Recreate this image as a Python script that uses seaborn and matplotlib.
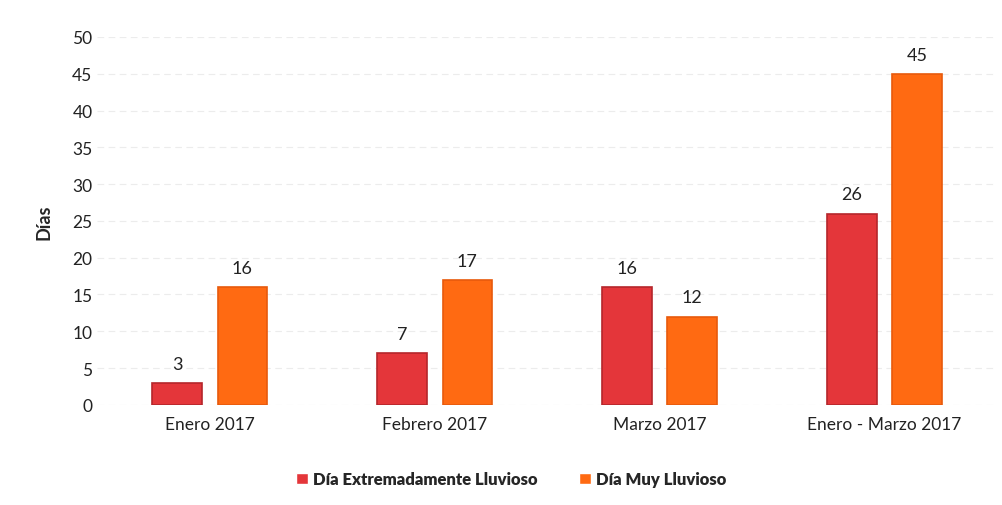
import pandas as pd
import matplotlib.pyplot as plt
import seaborn as sns

periodos = ['Enero 2017', 'Febrero 2017', 'Marzo 2017', 'Enero - Marzo 2017']
extremadamente = [3, 7, 16, 26]
muy_lluvioso = [16, 17, 12, 45]
series = ['Día Extremadamente Lluvioso', 'Día Muy Lluvioso']
colores = ['#E4363A', '#FF6A12']

df = pd.DataFrame({
    'Periodo': periodos * 2,
    'Dias': extremadamente + muy_lluvioso,
    'Tipo': [series[0]] * 4 + [series[1]] * 4,
})

sns.set_style('white')
plt.rcParams['font.family'] = ['Lato', 'DejaVu Sans']

fig = plt.figure(figsize=(10.03, 5.06), dpi=100)
ax = fig.add_axes([0.097, 0.198, 0.897, 0.727])

sns.barplot(data=df, x='Periodo', y='Dias', hue='Tipo', order=periodos,
            hue_order=series, palette=colores, width=0.58, gap=0.24,
            saturation=1, ax=ax, legend=True)

for cont, col in zip(ax.containers, ['#B5262B', '#E85A0C']):
    for bar in cont:
        bar.set_edgecolor(col)
        bar.set_linewidth(1.2)
    ax.bar_label(cont, padding=8, fontsize=13, color='#222222')

ax.set_ylim(0, 50)
ax.set_yticks(range(0, 51, 5))
ax.set_xlabel('')
ax.set_ylabel('Días', fontsize=13, fontweight='bold', labelpad=14)
ax.tick_params(axis='both', labelsize=12.5, length=0, colors='#222222')
ax.tick_params(axis='x', pad=8)
ax.yaxis.grid(True, color='#ececec', linestyle=(0, (6, 4)), linewidth=0.8)
ax.xaxis.grid(False)
ax.set_axisbelow(True)
for s in ax.spines.values():
    s.set_visible(False)

ax.legend(loc='upper center', bbox_to_anchor=(0.46, -0.14), ncol=2, frameon=False,
          prop={'weight': 'heavy', 'size': 12}, handlelength=0.7, handleheight=0.7,
          handletextpad=0.3, columnspacing=2.5)

fig.savefig('out.png', dpi=100)
